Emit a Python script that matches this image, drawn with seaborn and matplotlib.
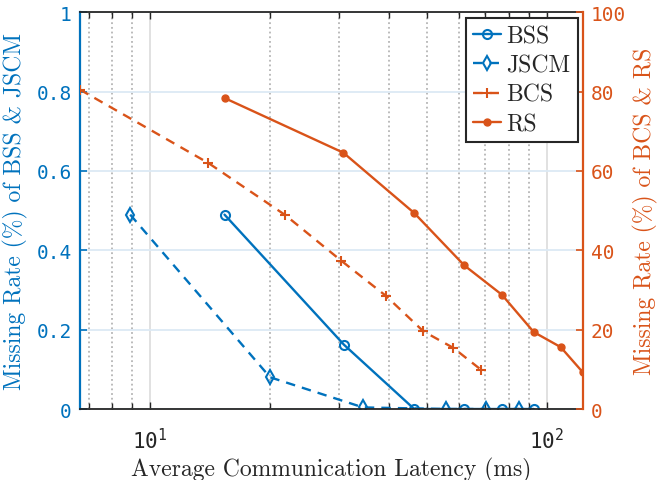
import matplotlib
matplotlib.use("Agg")
import matplotlib.pyplot as plt
from matplotlib.ticker import FixedLocator, FixedFormatter, NullFormatter
import seaborn as sns

# values (latency in ms, missing rate)
bss_x = [15.4, 30.8, 46.3, 61.9, 77.0, 92.6]
bss_y = [0.49, 0.162, 0.0, 0.0, 0.0, 0.0]
jscm_x = [8.91, 20.06, 34.4, 55.6, 70.2, 85.2]
jscm_y = [0.49, 0.08, 0.004, 0.0, 0.0, 0.0]
bcs_x = [6.66, 14.03, 21.9, 30.3, 39.2, 48.8, 58.1, 68.2]
bcs_y = [80.5, 62.0, 48.9, 37.4, 28.6, 19.6, 15.4, 9.9]
rs_x = [15.4, 30.7, 46.3, 61.9, 77.0, 92.6, 108.3, 123.0]
rs_y = [78.4, 64.6, 49.4, 36.2, 28.8, 19.4, 15.6, 9.3]

left_ticks = [0, 0.2, 0.4, 0.6, 0.8, 1]
left_labels = ['0', '0.2', '0.4', '0.6', '0.8', '1']
right_ticks = [0, 20, 40, 60, 80, 100]
right_labels = ['0', '20', '40', '60', '80', '100']

blue = '#0072BD'
orange = '#D95319'
dark = '#262626'
serif = 'cmr10'

sns.set_style("white")
plt.rcParams['font.family'] = ['DejaVu Sans Mono', 'DejaVu Sans']

fig = plt.figure(figsize=(6.58, 4.81), dpi=100)
ax = fig.add_axes([0.1216, 0.1476, 0.7639, 0.8247])
ax2 = ax.twinx()

sns.lineplot(x=bss_x, y=bss_y, ax=ax, color=blue, marker='o', markersize=6.5,
             markerfacecolor='none', markeredgecolor=blue, markeredgewidth=1.5,
             linewidth=1.7, label='BSS', sort=False)
sns.lineplot(x=jscm_x, y=jscm_y, ax=ax, color=blue, marker='d', markersize=7,
             markerfacecolor='none', markeredgecolor=blue, markeredgewidth=1.5,
             linewidth=1.7, linestyle=(0, (4, 3)), label='JSCM', sort=False)
sns.lineplot(x=bcs_x, y=bcs_y, ax=ax2, color=orange, marker='+', markersize=7,
             markeredgecolor=orange, markeredgewidth=1.5,
             linewidth=1.7, linestyle=(0, (4, 3)), label='BCS', sort=False)
sns.lineplot(x=rs_x, y=rs_y, ax=ax2, color=orange, marker='o', markersize=5,
             markerfacecolor=orange, markeredgecolor=orange, markeredgewidth=1,
             linewidth=1.7, label='RS', sort=False)

ax.set_xscale('log')
ax.set_xlim(6.66, 123)
ax.set_ylim(0, 1)
ax2.set_ylim(0, 100)

ax.xaxis.set_major_locator(FixedLocator([10, 100]))
ax.xaxis.set_major_formatter(FixedFormatter([r'$\mathtt{10^{1}}$', r'$\mathtt{10^{2}}$']))
ax.xaxis.set_minor_locator(FixedLocator([7, 8, 9, 20, 30, 40, 50, 60, 70, 80, 90]))
ax.xaxis.set_minor_formatter(NullFormatter())

ax.set_yticks(left_ticks)
ax.set_yticklabels(left_labels)
ax2.set_yticks(right_ticks)
ax2.set_yticklabels(right_labels)

# grids
ax.set_axisbelow(True)
ax.grid(True, axis='y', which='major', color='#DCE9F4', linewidth=1.3, linestyle='-')
ax.grid(True, axis='x', which='major', color='#DEDEDE', linewidth=1.3, linestyle='-')
ax.grid(True, axis='x', which='minor', color='#B5B5B5', linewidth=1.3, linestyle=(0, (1, 1.6)))

ax.tick_params(axis='x', which='both', direction='in', top=True, bottom=True,
               color=dark, labelcolor=dark, labelsize=15, pad=13, width=1)
ax.tick_params(axis='x', which='major', length=5)
ax.tick_params(axis='x', which='minor', length=4)
ax.tick_params(axis='y', which='major', direction='in', left=True, right=False,
               color=blue, labelcolor=blue, labelsize=14, length=5, width=1.2, pad=6)
ax2.tick_params(axis='y', which='major', direction='in', left=False, right=True,
                color=orange, labelcolor=orange, labelsize=14, length=5, width=1.2, pad=6)

for s in ['top', 'bottom']:
    ax.spines[s].set_color(dark)
    ax.spines[s].set_linewidth(1.3)
    ax2.spines[s].set_visible(False)
ax.spines['left'].set_color(blue)
ax.spines['left'].set_linewidth(1.6)
ax.spines['right'].set_visible(False)
ax2.spines['left'].set_visible(False)
ax2.spines['right'].set_color(orange)
ax2.spines['right'].set_linewidth(1.6)

ax.set_xlabel('Average Communication Latency (ms)', fontfamily=serif,
              fontsize=17, color=dark, labelpad=3)
ax.set_ylabel('Missing Rate (%) of BSS & JSCM', fontfamily=serif,
              fontsize=17, color=blue, labelpad=6)
ax2.set_ylabel('Missing Rate (%) of BCS & RS', fontfamily=serif,
               fontsize=17, color=orange, labelpad=5)

h1, l1 = ax.get_legend_handles_labels()
h2, l2 = ax2.get_legend_handles_labels()
if ax.get_legend() is not None:
    ax.get_legend().remove()
leg = ax2.legend(h1 + h2, l1 + l2, loc='upper right', bbox_to_anchor=(0.99, 0.985),
                 borderaxespad=0, prop={'family': serif, 'size': 17},
                 frameon=True, fancybox=False, framealpha=1, edgecolor=dark,
                 handlelength=1.15, handletextpad=0.25, labelspacing=0.3,
                 borderpad=0.3)
leg.get_frame().set_linewidth(1.5)

fig.savefig('out.png', dpi=100)
